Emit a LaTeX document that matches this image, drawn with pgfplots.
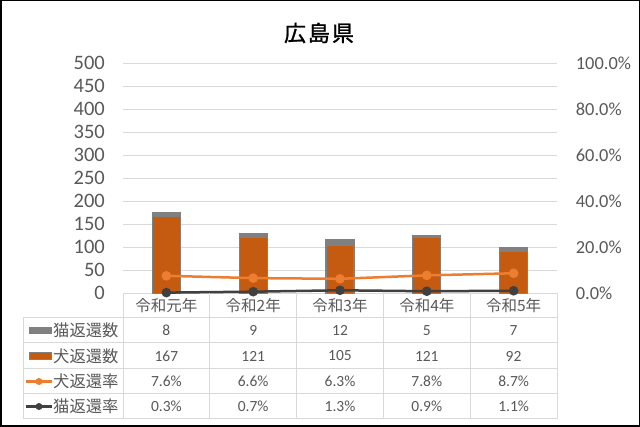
\documentclass[border=0pt]{standalone}
\usepackage{fontspec}
\setmainfont{Carlito}
\newfontfamily\jp{Noto Sans CJK JP}
\newfontfamily\jpb[FakeBold=1.2]{Noto Sans CJK JP}
\usepackage{pgfplots}
\pgfplotsset{compat=1.18}

\definecolor{dogbar}{HTML}{C55A11}
\definecolor{catbar}{HTML}{808080}
\definecolor{dogline}{HTML}{ED7D31}
\definecolor{catline}{HTML}{404040}
\definecolor{gridc}{HTML}{D9D9D9}
\definecolor{txt}{HTML}{595959}

\begin{document}
\begin{tikzpicture}[x=1pt,y=1pt]
\useasboundingbox (0,0) rectangle (640,427);
\fill[white] (0,0) rectangle (640,427);

% counts (left axis)
\begin{axis}[
  at={(123pt,133.7pt)}, anchor=south west,
  scale only axis, width=434pt, height=230pt,
  xmin=-0.5, xmax=4.5, ymin=0, ymax=500,
  xtick=\empty,
  ytick={0,50,100,150,200,250,300,350,400,450,500},
  yticklabels={0,50,100,150,200,250,300,350,400,450,500},
  axis line style={draw=none}, major tick length=0pt,
  ymajorgrids, grid style={gridc, line width=1pt},
  yticklabel style={font=\fontsize{20.5}{24}\selectfont, text=txt,
    anchor=east, inner sep=0pt, xshift=-18pt},
  ybar stacked, bar width=28pt,
  clip=false,
]
\addplot[fill=dogbar, draw=catbar, line width=1.2pt] coordinates {(0,167) (1,121) (2,105) (3,121) (4,92)};
\addplot[fill=catbar, draw=catbar, line width=1.2pt] coordinates {(0,8) (1,9) (2,12) (3,5) (4,7)};
\end{axis}

% rates (right axis)
\begin{axis}[
  at={(123pt,133.7pt)}, anchor=south west,
  scale only axis, width=434pt, height=230pt,
  xmin=-0.5, xmax=4.5, ymin=0, ymax=1,
  xtick=\empty,
  ytick={0,0.2,0.4,0.6,0.8,1},
  yticklabels={0.0\%,20.0\%,40.0\%,60.0\%,80.0\%,100.0\%},
  yticklabel pos=right,
  axis line style={draw=none}, major tick length=0pt,
  yticklabel style={font=\fontsize{18.4}{22}\selectfont, text=txt,
    anchor=west, inner sep=0pt, xshift=18.7pt},
  clip=false,
]
\addplot[dogline, line width=2.5pt, mark=*, mark size=3.5pt,
  mark options={fill=dogline, draw=dogline}]
  coordinates {(0,0.076) (1,0.066) (2,0.063) (3,0.078) (4,0.087)};
\addplot[catline, line width=2.5pt, mark=*, mark size=3.5pt,
  mark options={fill=catline, draw=catline}]
  coordinates {(0,0.003) (1,0.007) (2,0.013) (3,0.009) (4,0.011)};
\end{axis}

% data table
\begin{scope}[gridc, line width=1pt]
  \foreach \yy in {109,84,58.5,33,8} \draw (23,\yy) -- (557,\yy);
  \draw (23,109) -- (23,8);
  \foreach \k in {0,...,5} \draw ({123+86.8*\k},133.7) -- ({123+86.8*\k},8);
\end{scope}

\foreach \lab [count=\i from 0] in {令和元年,令和2年,令和3年,令和4年,令和5年}
  \node[font=\jp\fontsize{15.5}{18}\selectfont, text=txt] at ({166.4+86.8*\i},121.3) {\lab};

\foreach \v [count=\i from 0] in {8,9,12,5,7}
  \node[font=\fontsize{15.5}{18}\selectfont, text=txt] at ({166.4+86.8*\i},96.5) {\v};
\foreach \v [count=\i from 0] in {167,121,105,121,92}
  \node[font=\fontsize{15.5}{18}\selectfont, text=txt] at ({166.4+86.8*\i},71) {\v};
\foreach \v [count=\i from 0] in {7.6,6.6,6.3,7.8,8.7}
  \node[font=\fontsize{15.5}{18}\selectfont, text=txt] at ({166.4+86.8*\i},45.5) {\v\%};
\foreach \v [count=\i from 0] in {0.3,0.7,1.3,0.9,1.1}
  \node[font=\fontsize{15.5}{18}\selectfont, text=txt] at ({166.4+86.8*\i},20.5) {\v\%};

% legend keys of the table
\fill[catbar] (29,93) rectangle (52,100);
\draw[fill=dogbar, draw=catbar, line width=1.2pt] (29.6,67.5) rectangle (51.4,74.5);
\draw[dogline, line width=2.5pt] (26,45.5) -- (52,45.5);
\fill[dogline] (39,45.5) circle (3.5);
\draw[catline, line width=2.5pt] (26,20.5) -- (52,20.5);
\fill[catline] (39,20.5) circle (3.5);

\foreach \lab/\yy in {猫返還数/96.5,犬返還数/71,犬返還率/45.5,猫返還率/20.5}
  \node[anchor=west, inner sep=0pt, font=\jp\fontsize{16.3}{19}\selectfont, text=txt] at (53,\yy) {\lab};

% title
\node[font=\jpb\fontsize{22}{26}\selectfont, inner sep=0pt] at (319,394)
  {広\hspace{2pt}島\hspace{2pt}県};

% frame
\draw[black, line width=1.5pt] (0.75,0.75) rectangle (639.25,426.25);
\end{tikzpicture}
\end{document}
